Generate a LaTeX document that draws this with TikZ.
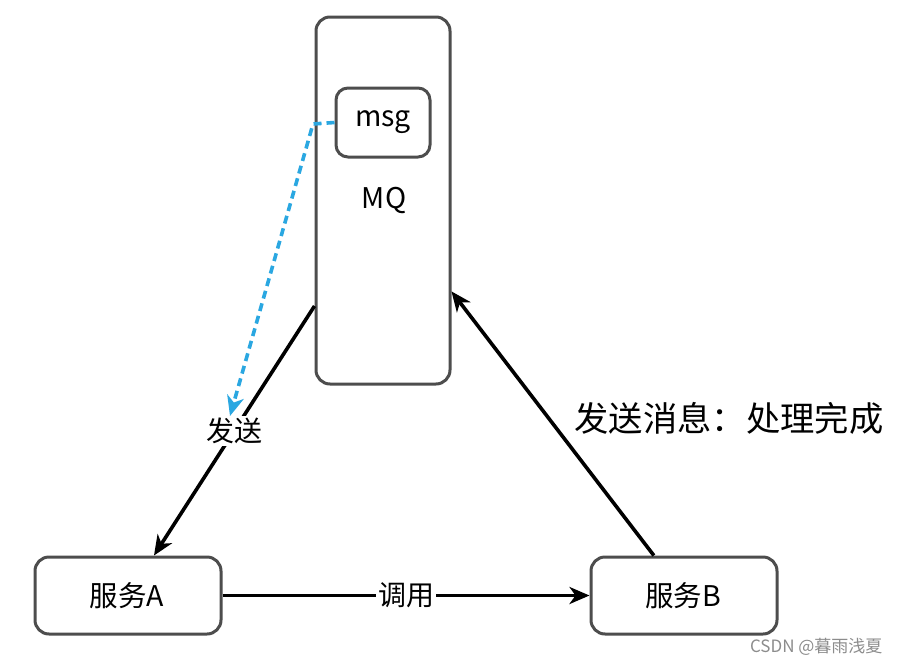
\documentclass[tikz,border=0pt]{standalone}
\usepackage{fontspec}
\setmainfont{Noto Sans CJK SC}
\usetikzlibrary{arrows.meta}
\definecolor{boxgray}{HTML}{4D4D4D}
\definecolor{dashblue}{HTML}{2AA7E1}
\tikzset{
  box/.style={draw=boxgray, line width=3pt, rounded corners=14pt, fill=white, inner sep=0pt},
  conn/.style={line width=3.6pt, -{Stealth[length=20pt,width=17pt,inset=6pt]}},
  lbl/.style={font=\fontsize{28}{32}\selectfont, inner sep=2pt},
  boxtext/.style={font=\fontsize{28.5}{32}\selectfont},
  msgdash/.style={draw=dashblue, line width=3.6pt, dash pattern=on 8pt off 5pt,
    -{Stealth[length=20pt,width=17pt,inset=6pt]}},
}
\begin{document}
\begin{tikzpicture}[x=1pt,y=-1pt]
\useasboundingbox (0,0) rectangle (900,664);
\node[box, minimum width=134pt, minimum height=367pt] (mq) at (383,200.5) {};
\node[boxtext] (mqlabel) at (384,200) {MQ};
\node[box, minimum width=94pt, minimum height=69pt, rounded corners=12pt] (msg) at (383,122.5) {};
\node[boxtext] (msgtext) at (383,122) {msg};
\node[box, minimum width=186pt, minimum height=77pt] (A) at (128,595.5) {};
\node[boxtext] (Atext) at (127,596) {服务A};
\node[box, minimum width=186pt, minimum height=77pt] (B) at (684,595.5) {};
\node[boxtext] (Btext) at (683,596) {服务B};
% MQ -> A
\draw[conn] (mq.237.8) -- node[lbl, fill=white] (send) {发送} (A.57);
% A -> B
\draw[conn] (A.east) -- node[lbl, fill=white] (call) {调用} (B.west);
% B -> MQ
\draw[conn] (B.127) -- (mq.-53.5);
\node[lbl, font=\fontsize{34.3}{38}\selectfont] (done) at (729,418) {发送消息：处理完成};
% dashed blue
\coordinate (bend) at (313,124);
\coordinate (tip) at (230,416);
\draw[msgdash] (msg.west) -- (bend) -- (tip);
\node[text=black!45, font=\fontsize{17}{19}\selectfont, anchor=east] (wm) at (886,647) {CSDN @暮雨浅夏};
\end{tikzpicture}
\end{document}
